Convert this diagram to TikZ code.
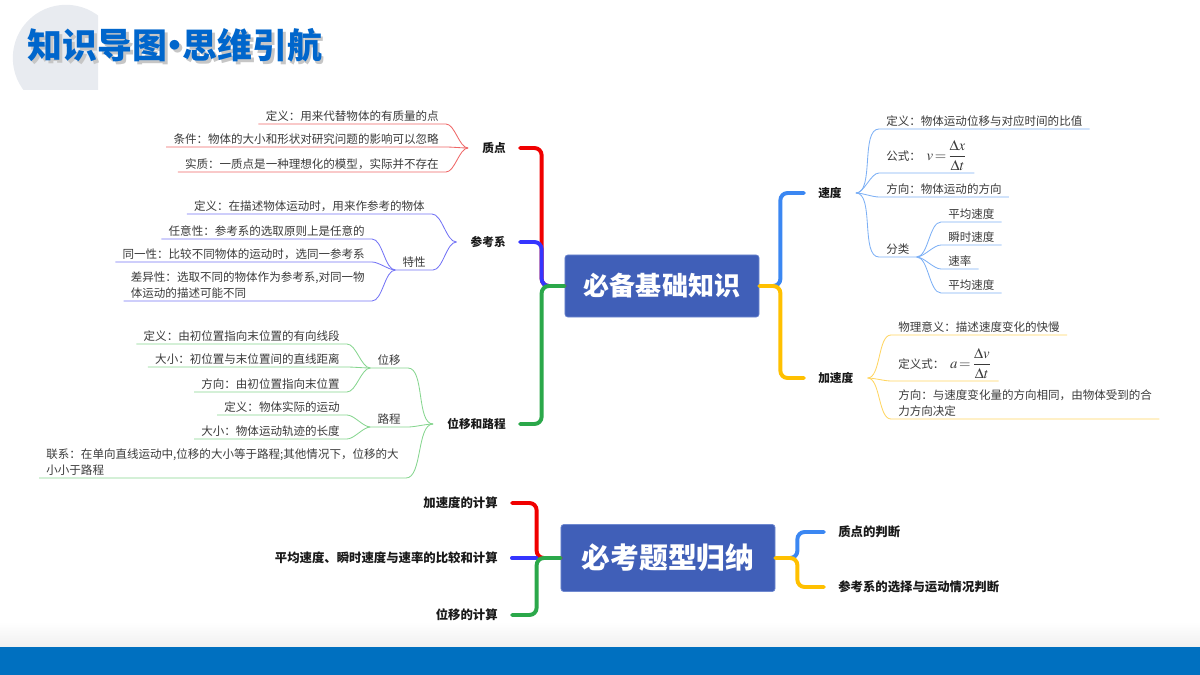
\documentclass[tikz,border=0pt]{standalone}
\usepackage{amsmath}
\usepackage{mathptmx}
\usepackage[no-math]{fontspec}
\setmainfont{Noto Sans CJK SC}
\usetikzlibrary{positioning,calc}

\definecolor{titleblue}{HTML}{0066CC}
\definecolor{circgray}{HTML}{E8EBF0}
\definecolor{bandblue}{HTML}{0070C0}
\definecolor{corefill}{HTML}{405FB8}
\definecolor{coreline}{HTML}{6F89D0}
\definecolor{cred}{HTML}{F00000}
\definecolor{tred}{HTML}{EE6666}
\definecolor{cblue}{HTML}{3535FF}
\definecolor{tblue}{HTML}{7373F5}
\definecolor{cgreen}{HTML}{2BA84A}
\definecolor{tgreen}{HTML}{86D58F}
\definecolor{csky}{HTML}{3B87F2}
\definecolor{tsky}{HTML}{7DB0F5}
\definecolor{cyellow}{HTML}{FFC000}
\definecolor{tyellow}{HTML}{FFD561}
\definecolor{leaftext}{HTML}{3A3A3A}

\newcommand{\titletext}{知识导图\kern-0.28em·\kern-0.28em思维引航}
\newcommand{\bigmath}{\fontsize{10.5}{12}\selectfont}

\tikzset{
  core/.style={fill=corefill, draw=coreline, line width=0.5pt, rounded corners=2pt,
    text=white, inner sep=0pt},
  lbl/.style={font=\fontsize{8.3}{10}\selectfont\bfseries, inner xsep=0.35cm,
    inner ysep=0.05cm, text=black!90},
  lbltwo/.style={lbl, font=\fontsize{8.8}{10}\selectfont\bfseries},
  leafl/.style={anchor=south east, inner xsep=0.175cm, inner ysep=0.06cm,
    font=\fontsize{8.2}{11.3}\selectfont, text=leaftext, align=left},
  leafr/.style={leafl, anchor=south west},
  thk/.style={line width=2.8pt, rounded corners=0.18cm, line cap=round},
  thn/.style={line width=0.6pt, looseness=0.7},
}

\begin{document}
\begin{tikzpicture}[x=0.025cm, y=-0.025cm]
  \useasboundingbox (0,0) rectangle (1200,675);

  % page decoration
  \begin{scope}
    \clip (0,0) rectangle (98,90);
    \fill[circgray] (66,58) circle (1.33cm);
  \end{scope}
  \shade[top color=white, bottom color=gray!12] (0,622) rectangle (1200,647);
  \fill[bandblue] (0,647) rectangle (1200,675);
  \node[anchor=west, text=gray!45, font=\fontsize{24.8}{28}\selectfont\bfseries]
    (titleshadow) at (25.5,48) {\titletext};
  \node[anchor=west, text=titleblue, font=\fontsize{24.8}{28}\selectfont\bfseries]
    (title) at (23,45) {\titletext};

  % central topics
  \node[core, minimum width=4.85cm, minimum height=1.55cm,
    font=\fontsize{18.5}{22}\selectfont\bfseries] (core1) at (662,286) {必备基础知识};
  \node[core, minimum width=5.35cm, minimum height=1.675cm,
    font=\fontsize{20.5}{24}\selectfont\bfseries] (core2) at (668,558) {必考题型归纳};
  \coordinate (j1) at ($(core1.west)+(-23,0)$);
  \coordinate (j2) at ($(core1.east)+(21,0)$);
  \coordinate (j3) at ($(core2.west)+(-24,0)$);
  \coordinate (j4) at ($(core2.east)+(22,0)$);

  % main branches
  \node[lbl, anchor=east] (zd) at (520,148) {质点};
  \node[lbl, anchor=east] (ckx) at (520,242) {参考系};
  \node[lbl, anchor=east] (wy) at (520,424) {位移和路程};
  \node[lbl, anchor=west] (sd) at (804,193) {速度};
  \node[lbl, anchor=west] (jsd) at (804,378) {加速度};

  \node[lbltwo, anchor=east] (t1) at (512,503) {加速度的计算};
  \node[lbltwo, anchor=east] (t2) at (512,558) {平均速度、瞬时速度与速率的比较和计算};
  \node[lbltwo, anchor=east] (t3) at (512,615) {位移的计算};
  \node[lbltwo, anchor=west] (k1) at (824,532) {质点的判断};
  \node[lbltwo, anchor=west] (k2) at (824,587) {参考系的选择与运动情况判断};

  \draw[thk, cred] (zd.east) -| (j1) -- (core1.west);
  \draw[thk, cblue] (ckx.east) -| (j1) -- (core1.west);
  \draw[thk, cgreen] (core1.west) -- (j1) |- (wy.east);
  \draw[thk, csky] (core1.east) -- (j2) |- (sd.west);
  \draw[thk, cyellow] (core1.east) -- (j2) |- (jsd.west);

  \draw[thk, cred] (t1.east) -| (j3) -- (core2.west);
  \draw[thk, cblue] (t2.east) -- (j3);
  \draw[thk, cgreen] (core2.west) -- (j3) |- (t3.east);
  \draw[thk, csky] (core2.east) -- (j4) |- (k1.west);
  \draw[thk, cyellow] (core2.east) -- (j4) |- (k2.west);

  % 质点
  \node[leafl] (z1) at (446,124) {定义：用来代替物体的有质量的点};
  \node[leafl] (z2) at (446,147) {条件：物体的大小和形状对研究问题的影响可以忽略};
  \node[leafl] (z3) at (446,172) {实质：一质点是一种理想化的模型，实际并不存在};
  \foreach \n in {z1,z2,z3}
    \draw[thn, tred] (\n.south west) -- (\n.south east) to[out=0,in=180] (zd.west);

  % 参考系
  \node[leafl] (c1) at (432,214) {定义：在描述物体运动时，用来作参考的物体};
  \node[leafl] (tx) at (433,270) {特性};
  \node[leafl] (c2) at (372,239) {任意性：参考系的选取原则上是任意的};
  \node[leafl] (c3) at (372,262) {同一性：比较不同物体的运动时，选同一参考系};
  \node[leafl] (c4) at (372,301) {差异性：选取不同的物体作为参考系,对同一物\\体运动的描述可能不同};
  \foreach \n in {c1,tx}
    \draw[thn, tblue] (\n.south west) -- (\n.south east) to[out=0,in=180] (ckx.west);
  \foreach \n in {c2,c3,c4}
    \draw[thn, tblue] (\n.south west) -- (\n.south east) to[out=0,in=180] (tx.south west);

  % 位移和路程
  \node[leafl] (wyi) at (408,368) {位移};
  \node[leafl] (w1) at (347,344) {定义：由初位置指向末位置的有向线段};
  \node[leafl] (w2) at (347,367) {大小：初位置与末位置间的直线距离};
  \node[leafl] (w3) at (347,392) {方向：由初位置指向末位置};
  \node[leafl] (lc) at (408,427) {路程};
  \node[leafl] (w4) at (347,415) {定义：物体实际的运动};
  \node[leafl] (w5) at (347,439) {大小：物体运动轨迹的长度};
  \node[leafl] (w6) at (406,478) {联系：在单向直线运动中,位移的大小等于路程;其他情况下，位移的大\\小小于路程};
  \foreach \n in {wyi,lc,w6}
    \draw[thn, tgreen] (\n.south west) -- (\n.south east) to[out=0,in=180] (wy.west);
  \foreach \n in {w1,w2,w3}
    \draw[thn, tgreen] (\n.south west) -- (\n.south east) to[out=0,in=180] (wyi.south west);
  \foreach \n in {w4,w5}
    \draw[thn, tgreen] (\n.south west) -- (\n.south east) to[out=0,in=180] (lc.south west);

  % 速度
  \node[leafr] (s1) at (879,129) {定义：物体运动位移与对应时间的比值};
  \node[leafr] (s2) at (879,173) {公式：\enspace{\bigmath$v\!=\!\dfrac{\Delta x}{\Delta t}$}};
  \node[leafr] (s3) at (879,197) {方向：物体运动的方向};
  \node[leafr] (fl) at (879,257) {分类};
  \node[leafr] (f1) at (941,222) {平均速度};
  \node[leafr] (f2) at (941,245) {瞬时速度};
  \node[leafr] (f3) at (941,269) {速率};
  \node[leafr] (f4) at (941,293) {平均速度};
  \foreach \n in {s1,s2,s3,fl}
    \draw[thn, tsky] (\n.south east) -- (\n.south west) to[out=180,in=0] (sd.east);
  \foreach \n in {f1,f2,f3,f4}
    \draw[thn, tsky] (\n.south east) -- (\n.south west) to[out=180,in=0] (fl.south east);

  % 加速度
  \node[leafr] (a1) at (891,335) {物理意义：描述速度变化的快慢};
  \node[leafr] (a2) at (891,381) {定义式：\enspace{\bigmath$a\!=\!\dfrac{\Delta v}{\Delta t}$}};
  \node[leafr] (a3) at (891,419) {方向：与速度变化量的方向相同，由物体受到的合\\力方向决定};
  \foreach \n in {a1,a2,a3}
    \draw[thn, tyellow] (\n.south east) -- (\n.south west) to[out=180,in=0] (jsd.east);
\end{tikzpicture}
\end{document}
